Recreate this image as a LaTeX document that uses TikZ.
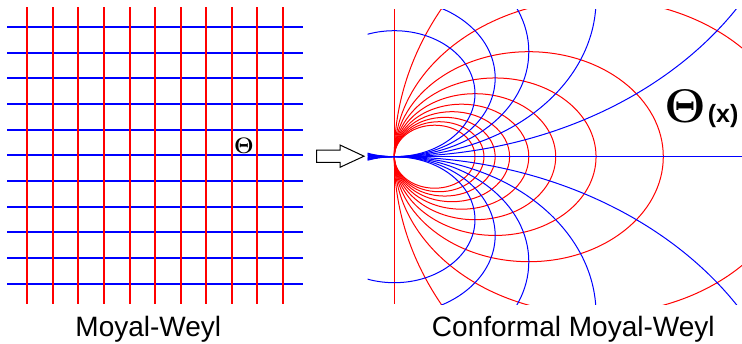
\documentclass[tikz,border=0pt]{standalone}
\usepackage[no-math]{fontspec}
\newfontfamily\arial{Liberation Sans}
\definecolor{pureRed}{RGB}{255,0,0}
\definecolor{pureBlue}{RGB}{0,0,255}
\begin{document}
\begin{tikzpicture}[x=1pt,y=-1pt,
  redline/.style={draw=pureRed,line width=1.6pt},
  blueline/.style={draw=pureBlue,line width=1.6pt},
  redcurve/.style={draw=pureRed,line width=1pt},
  bluecurve/.style={draw=pureBlue,line width=1pt},
  caption/.style={font=\arial\fontsize{28}{30}\selectfont,inner sep=0pt,anchor=base}]
\useasboundingbox (0,0) rectangle (742,343);
% left grid
\foreach \p in {27,53,78,104,130,155,181,207,232,258,284} {
  \draw[blueline] (7,\p) -- (303,\p);
}
\foreach \p in {27,53,78,104,130,155,181,206,232,257,283} {
  \draw[redline] (\p,7) -- (\p,304);
}
\node[inner sep=0pt,scale=0.9,font=\Huge] (theta) at (244,145.5) {{\boldmath$\Theta$}};
% arrow
\draw[line width=1pt,fill=white,line join=miter] (316.7,150) -- (340,150) -- (340,145) -- (364,156.2) -- (340,167.3) -- (340,162.3) -- (316.7,162.3) -- cycle;
% right conformal grid
\coordinate (O) at (394.3,156.7);
\begin{scope}
\clip (367.5,9.3) rectangle (742,304);
\foreach \u in {1,...,10} {
  \draw[redcurve] (394.3+403.5/\u,156.7) ellipse [x radius=403.5/\u, y radius=315/\u];
}
\draw[redcurve] (394.3,9.3) -- (O) -- (394.3,304);
\foreach \v in {1,...,5} {
  \draw[bluecurve] (394.3,156.7-315/\v) ellipse [x radius=403.5/\v, y radius=315/\v];
  \draw[bluecurve] (394.3,156.7+315/\v) ellipse [x radius=403.5/\v, y radius=315/\v];
}
\draw[bluecurve] (367.5,156.7) -- (O) -- (742,156.7);
\end{scope}
\node[inner sep=0pt,anchor=base west,scale=1.9,font=\Huge] (thetabig) at (664,122.5) {{\boldmath$\Theta$}};
\node[inner sep=0pt,anchor=base west,font=\arial\bfseries\fontsize{25}{25}\selectfont] (xarg) at ([xshift=1.5pt]thetabig.base east) {(x)};
\node[caption] (mw) at (148.3,336.7) {Moyal-Weyl};
\node[caption] (cmw) at (573.3,336.7) {Conformal Moyal-Weyl};
\end{tikzpicture}
\end{document}
